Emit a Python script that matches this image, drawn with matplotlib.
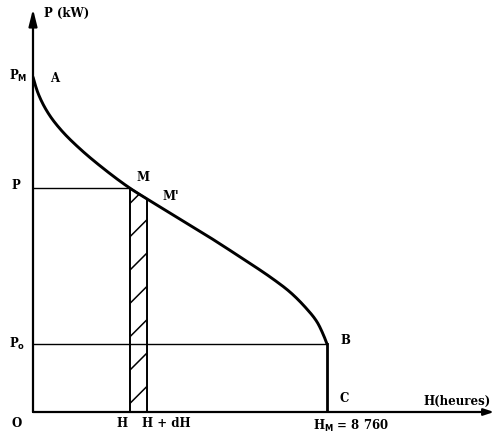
import matplotlib
matplotlib.use("Agg")
import matplotlib.pyplot as plt
import numpy as np

# Load-duration curve (P in % of P_M, H in hours)
H_curve = [0, 149, 447, 834, 1341, 1996, 2890, 3397, 4082, 5065, 6168, 7151, 7658, 8164, 8462, 8641, 8760]
P_curve = [100, 95.2, 89.3, 84.2, 79.1, 73.5, 66.8, 63.6, 59.4, 53.4, 46.3, 39.7, 35.8, 30.7, 26.9, 23.3, 20.3]
H_M = 8760
H_val = 2890
dH = 507
P_level = 66.8
P_o = 20.3


def pchip(x, y, xs):
    x = np.asarray(x, float)
    y = np.asarray(y, float)
    h = np.diff(x)
    d = np.diff(y) / h
    n = len(x)
    m = np.zeros(n)
    for k in range(1, n - 1):
        if d[k - 1] * d[k] <= 0:
            m[k] = 0
        else:
            w1 = 2 * h[k] + h[k - 1]
            w2 = h[k] + 2 * h[k - 1]
            m[k] = (w1 + w2) / (w1 / d[k - 1] + w2 / d[k])
    m[0] = ((2 * h[0] + h[1]) * d[0] - h[0] * d[1]) / (h[0] + h[1])
    m[-1] = ((2 * h[-1] + h[-2]) * d[-1] - h[-1] * d[-2]) / (h[-1] + h[-2])
    idx = np.clip(np.searchsorted(x, xs) - 1, 0, n - 2)
    t = (xs - x[idx]) / h[idx]
    h00 = 2 * t ** 3 - 3 * t ** 2 + 1
    h10 = t ** 3 - 2 * t ** 2 + t
    h01 = -2 * t ** 3 + 3 * t ** 2
    h11 = t ** 3 - t ** 2
    return h00 * y[idx] + h10 * h[idx] * m[idx] + h01 * y[idx + 1] + h11 * h[idx] * m[idx + 1]


fig = plt.figure(figsize=(4.95, 4.39), dpi=100)
W, Hpx = 495, 439
x0, y0 = 33, 413
xend, ytop = 494, 10
ax = fig.add_axes([x0 / W, (Hpx - y0) / Hpx, (xend - x0) / W, (y0 - ytop) / Hpx])
hpp = H_M / (327 - 33)  # hours per pixel
ppp = 100 / (413 - 78)   # P units per pixel
ax.set_xlim(0, (xend - x0) * hpp)
ax.set_ylim(0, (y0 - ytop) * ppp)
ax.axis("off")

sx = np.linspace(0, H_M, 1000)
sy = pchip(H_curve, P_curve, sx)
ax.plot(sx, sy, color="black", lw=2.1, solid_capstyle="round", zorder=4)

# axes arrows
ax.annotate("", xy=((xend - x0) * hpp, 0), xytext=(0, 0),
            arrowprops=dict(arrowstyle="-|>,head_length=0.6,head_width=0.2", color="black", lw=1.6,
                            shrinkA=0, shrinkB=0), zorder=5)
ax.annotate("", xy=(0, (y0 - ytop) * ppp), xytext=(0, 0),
            arrowprops=dict(arrowstyle="-|>,head_length=1.0,head_width=0.25", color="black", lw=1.6,
                            shrinkA=0, shrinkB=0), zorder=5)

# hatched strip
P_right = float(pchip(H_curve, P_curve, np.array([H_val + dH]))[0])
plt.rcParams['hatch.linewidth'] = 1.1
ax.fill([H_val, H_val + dH, H_val + dH, H_val], [0, 0, P_right, P_level],
        facecolor="white", edgecolor="black", hatch="/", lw=1.4, zorder=2)

# horizontal / vertical guide lines
ax.plot([0, H_val], [P_level, P_level], color="black", lw=1.0, zorder=3)
ax.plot([0, H_M], [P_o, P_o], color="black", lw=1.0, zorder=3)
ax.plot([H_M, H_M], [0, P_o], color="black", lw=2.0, zorder=3)

font = dict(family="DejaVu Serif", fontweight="bold", fontsize=8.5, color="black")


def px(x, y):
    return ((x - x0) * hpp, (y0 - y) * ppp)


ax.text(*px(44, 13), "P (kW)", ha="left", va="center", **font)
ax.text(*px(9, 76), r"P$_{\mathbf{M}}$", ha="left", va="center", **font)
ax.text(*px(50, 78), "A", ha="left", va="center", **font)
ax.text(*px(11, 186), "P", ha="left", va="center", **font)
ax.text(*px(136, 178), "M", ha="left", va="center", **font)
ax.text(*px(162, 197), "M'", ha="left", va="center", **font)
ax.text(*px(9, 344), r"P$_{\mathbf{o}}$", ha="left", va="center", **font)
ax.text(*px(340, 341), "B", ha="left", va="center", **font)
ax.text(*px(340, 399), "C", ha="left", va="center", **font)
ax.text(*px(12, 424), "O", ha="left", va="center", **font)
ax.text(*px(116, 424), "H", ha="left", va="center", **font)
ax.text(*px(142, 424), "H + dH", ha="left", va="center", **font)
ax.text(*px(313, 426), r"H$_{\mathbf{M}}$ = 8 760", ha="left", va="center", **font)
ax.text(*px(423, 401), "H(heures)", ha="left", va="center", **font)

fig.savefig("out.png", dpi=100, facecolor="white")
